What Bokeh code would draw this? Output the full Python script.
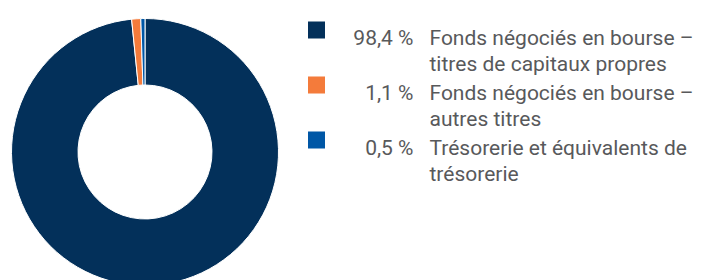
import math
from bokeh.plotting import figure
from bokeh.models import Range1d, ColumnDataSource
from bokeh.core.properties import value
from bokeh.embed import file_html
from bokeh.resources import INLINE

# ---- data ----
categories = [
    "Fonds négociés en bourse – titres de capitaux propres",
    "Fonds négociés en bourse – autres titres",
    "Trésorerie et équivalents de trésorerie",
]
shares = [98.4, 1.1, 0.5]
pct_labels = ["98,4 %", "1,1 %", "0,5 %"]
label_line1 = ["Fonds négociés en bourse –", "Fonds négociés en bourse –", "Trésorerie et équivalents de"]
label_line2 = ["titres de capitaux propres", "autres titres", "trésorerie"]
colors = ["#03305A", "#F47B3B", "#0057A6"]

# ---- layout (1 data unit = 1 px) ----
W, H = 704, 280
p = figure(width=W, height=H, output_backend="svg", toolbar_location=None,
           x_range=Range1d(0, W), y_range=Range1d(0, H), min_border=0)
p.axis.visible = False
p.grid.visible = False
p.outline_line_color = None
p.background_fill_color = "white"
p.border_fill_color = "white"

def fy(page_y):
    return H - page_y

def fx(page_x):
    return page_x

# donut
total = sum(shares)
starts, ends = [], []
cum = 0.0
for s in shares:
    starts.append(math.pi / 2 - 2 * math.pi * cum / total)
    cum += s
    ends.append(math.pi / 2 - 2 * math.pi * cum / total)

src = ColumnDataSource(dict(start=starts, end=ends, color=colors, cat=categories))
p.annular_wedge(x=fx(144.5), y=fy(151.5), inner_radius=67, outer_radius=133.5,
                start_angle="start", end_angle="end", direction="clock",
                fill_color="color", line_color="white", line_width=1, source=src)

# legend
row_sq = [29.5, 84.5, 139.5]
row_b1 = [37, 92, 147]
row_b2 = [63, 118, 173]
n = len(shares)
p.rect(x=[fx(316)] * n, y=[fy(v) for v in row_sq], width=17, height=17,
       fill_color=colors, line_color=None)
font = value("Roboto")
grey = "#58595B"
fs = "21px"
p.text(x=[fx(413)] * n, y=[fy(v) for v in row_b1], text=pct_labels,
       text_font=font, text_font_size=fs, text_color=grey,
       text_align="right", text_baseline="alphabetic")
p.text(x=[fx(429)] * n, y=[fy(v) for v in row_b1], text=label_line1,
       text_font=font, text_font_size=fs, text_color=grey,
       text_align="left", text_baseline="alphabetic")
p.text(x=[fx(429)] * n, y=[fy(v) for v in row_b2], text=label_line2,
       text_font=font, text_font_size=fs, text_color=grey,
       text_align="left", text_baseline="alphabetic")

open("out.html", "w").write(file_html(p, INLINE))
